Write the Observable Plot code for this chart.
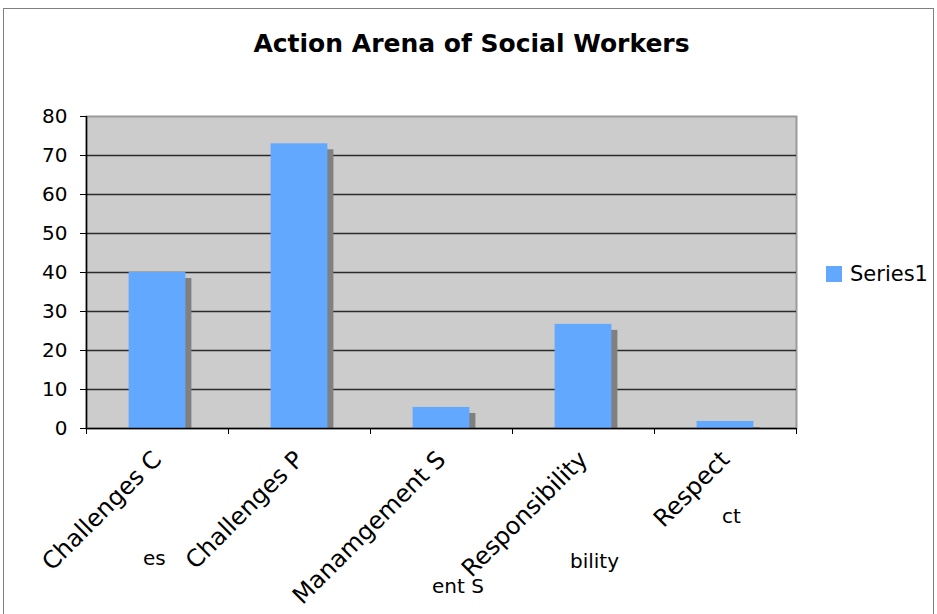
<!DOCTYPE html>
<html>
<head>
<meta charset="utf-8">
<script src="https://cdn.jsdelivr.net/npm/d3@7"></script>
<script src="https://cdn.jsdelivr.net/npm/@observablehq/plot@0.6"></script>
<style>
  html, body { margin: 0; padding: 0; background: #fff; }
  #wrap { position: relative; width: 937px; height: 614px; overflow: hidden; font-family: "DejaVu Sans", Verdana, sans-serif; }
  #border { position: absolute; left: 3px; top: 8px; width: 931px; height: 620px; border: 1px solid #808080; box-sizing: border-box; }
  #title { position: absolute; left: 0; width: 943px; top: 29px; text-align: center; font: bold 25px "DejaVu Sans", sans-serif; color: #000; }
  #chart { position: absolute; left: 0; top: 0; }
  #legend { position: absolute; left: 826px; top: 262px; display: flex; align-items: center; font: 21px "DejaVu Sans", sans-serif; color: #000; }
  #legend .sw { width: 16px; height: 16px; background: #63a8ff; margin-right: 8px; }
  .frag { position: absolute; font: 20px "DejaVu Sans", sans-serif; color: #000; white-space: nowrap; }
</style>
</head>
<body>
<div id="wrap">
  <div id="border"></div>
  <div id="chart"></div>
  <div id="title"></div>
  <div id="legend"><div class="sw"></div><span id="legendLabel"></span></div>
</div>
<script>
const title = "Action Arena of Social Workers";
const categories = ["Challenges C", "Challenges P", "Manamgement S", "Responsibility", "Respect"];
const values = [40, 73, 5.4, 26.7, 1.8];
const seriesName = "Series1";
const yTicks = [0, 10, 20, 30, 40, 50, 60, 70, 80];
// stray partially hidden label fragments visible in the reference
const fragments = [
  {text: "es", left: 143, top: 546},
  {text: "bility", left: 570, top: 549},
  {text: "ent S", left: 432, top: 574},
  {text: "ct", left: 722, top: 504}
];

document.getElementById("title").textContent = title;
document.getElementById("legendLabel").textContent = seriesName;
for (const f of fragments) {
  const s = document.createElement("div");
  s.className = "frag";
  s.style.left = f.left + "px";
  s.style.top = f.top + "px";
  s.textContent = f.text;
  document.getElementById("wrap").appendChild(s);
}

const data = categories.map((c, i) => ({category: c, value: values[i], i}));
const boundaries = d3.range(categories.length + 1);

const chart = Plot.plot({
  width: 937,
  height: 614,
  marginLeft: 86,
  marginRight: 141,
  marginTop: 116,
  marginBottom: 186,
  style: {background: "transparent", fontFamily: "DejaVu Sans, sans-serif", overflow: "visible"},
  x: {type: "linear", domain: [0, categories.length], axis: null},
  y: {domain: [0, 80], axis: null},
  marks: [
    Plot.frame({fill: "#cccccc", stroke: "#9a9a9a", strokeWidth: 2}),
    Plot.ruleY(yTicks.filter(t => t > 0 && t < 80), {stroke: "#2a2a2a", strokeWidth: 1.5}),
    Plot.rectY(data, {x1: d => d.i + 0.3, x2: d => d.i + 0.7, y1: 0, y2: "value", fill: "#808080", dx: 6, insetTop: 6}),
    Plot.rectY(data, {x1: d => d.i + 0.3, x2: d => d.i + 0.7, y1: 0, y2: "value", fill: "#63a8ff"}),
    Plot.ruleY([0], {stroke: "#000", strokeWidth: 1.5}),
    Plot.ruleX([0], {stroke: "#000", strokeWidth: 1.5}),
    Plot.axisY({ticks: yTicks, tickSize: 6, tickPadding: 13, fontSize: 20, stroke: "#000", color: "#000", label: null}),
    Plot.axisX({ticks: boundaries, tickSize: 6, tickFormat: () => "", stroke: "#000", label: null}),
    Plot.text(data, {x: d => d.i + 0.5, y: 0, text: "category", rotate: -45, textAnchor: "end", lineAnchor: "middle", dx: 0, dy: 27, fontSize: 24, fill: "#000"})
  ]
});
document.getElementById("chart").appendChild(chart);
</script>
</body>
</html>
